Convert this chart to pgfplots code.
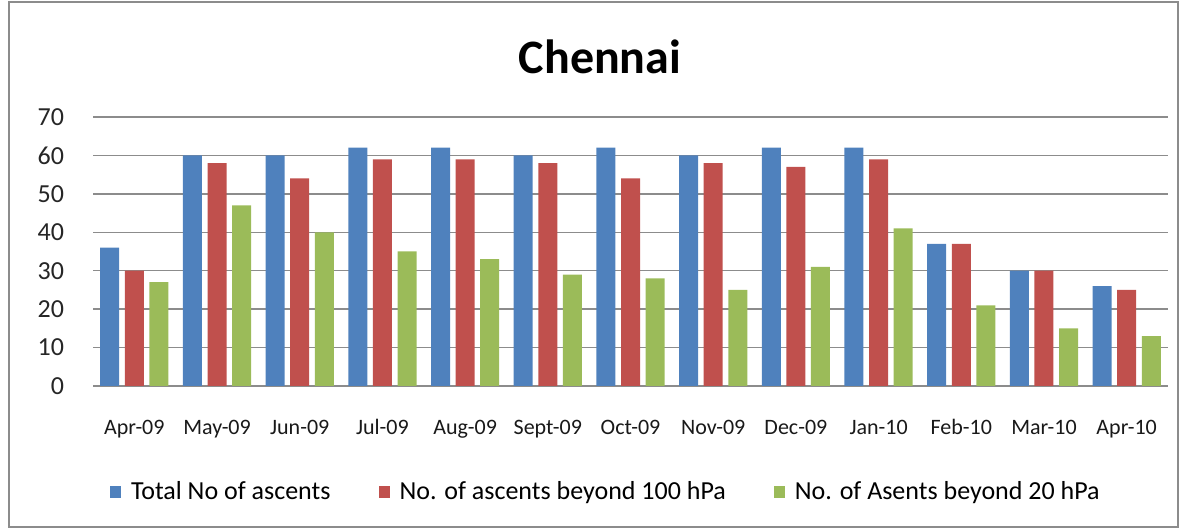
\documentclass[border=0pt]{standalone}
\usepackage{fontspec}
\setmainfont{Carlito}
\usepackage{pgfplots}
\pgfplotsset{compat=1.18}
\definecolor{cblue}{HTML}{4F81BD}
\definecolor{cred}{HTML}{C0504D}
\definecolor{cgreen}{HTML}{9BBB59}
\definecolor{gridc}{HTML}{8C8C8C}
\begin{document}
\begin{tikzpicture}[x=1pt,y=1pt]
\path (0,0) rectangle (594,264.5);
\draw[color=gridc, line width=1pt] (4.5,1) rectangle (589,263.5);
\node[font=\fontsize{24}{28}\selectfont\bfseries] at (300,236) {Chennai};
\begin{axis}[
  at={(46.5pt,71.5pt)}, anchor=south west,
  width=537.5pt, height=134.5pt, scale only axis,
  ybar=2.8pt, bar width=9.5pt,
  xmin=-0.5, xmax=12.5, ymin=0, ymax=70,
  xtick=data,
  xticklabels={Apr-09,May-09,Jun-09,Jul-09,Aug-09,Sept-09,Oct-09,Nov-09,Dec-09,Jan-10,Feb-10,Mar-10,Apr-10},
  ytick={0,10,...,70},
  ymajorgrids, grid style={gridc, line width=0.7pt},
  axis line style={draw=none},
  major tick style={draw=none},
  /pgf/number format/assume math mode=true,
  yticklabel style={font=\fontsize{13}{15}\selectfont, xshift=-11pt, text=black!85},
  xticklabel style={font=\fontsize{11}{13}\selectfont, yshift=-9pt, text=black!90, text height=1.6ex, text depth=0.3ex},
  legend style={at={(0.478,-0.394)}, anchor=center, draw=none, fill=none,
    font=\fontsize{13}{15}\selectfont, legend columns=3,
    /tikz/every odd column/.append style={column sep=3pt},
    /tikz/every even column/.append style={column sep=22pt}},
  legend image code/.code={\fill[#1] (0pt,-2.8pt) rectangle (5.5pt,2.8pt);},
]
\addplot[fill=cblue, draw=none] coordinates {(0,36) (1,60) (2,60) (3,62) (4,62) (5,60) (6,62) (7,60) (8,62) (9,62) (10,37) (11,30) (12,26)};
\addplot[fill=cred, draw=none] coordinates {(0,30) (1,58) (2,54) (3,59) (4,59) (5,58) (6,54) (7,58) (8,57) (9,59) (10,37) (11,30) (12,25)};
\addplot[fill=cgreen, draw=none] coordinates {(0,27) (1,47) (2,40) (3,35) (4,33) (5,29) (6,28) (7,25) (8,31) (9,41) (10,21) (11,15) (12,13)};
\legend{Total No of ascents, No. of ascents beyond 100 hPa, No. of Asents beyond 20 hPa}
\end{axis}
\end{tikzpicture}
\end{document}
